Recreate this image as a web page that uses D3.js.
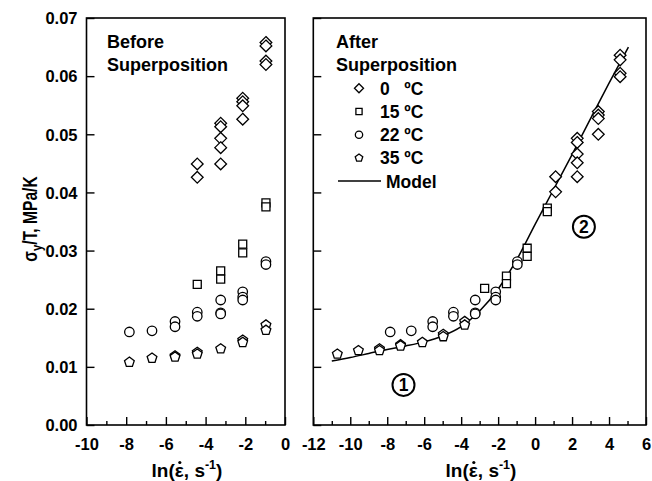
<!DOCTYPE html>
<meta charset="utf-8">
<style>
body { margin: 0; background: #fff; }
svg { font-family: Arial, "Liberation Sans", sans-serif; font-weight: bold; }
.frame { fill: none; stroke: #000; stroke-width: 1.6px; }
.tick line { stroke: #000; stroke-width: 1.4px; }
.mark { fill: #fff; stroke: #000; stroke-width: 1.3px; }
</style>
<svg width="652" height="481"></svg>
<script src="https://d3js.org/d3.v7.min.js"></script>
<script>

// ---- data: [ln(strain rate), sigma_y/T] ----
var before0C = [[-4.42,0.0449],[-4.42,0.0426],[-3.24,0.0519],[-3.24,0.0513],[-3.24,0.0493],[-3.24,0.0477],[-3.24,0.0449],
  [-2.13,0.0562],[-2.13,0.0556],[-2.13,0.0549],[-2.13,0.0526],[-0.96,0.0658],[-0.96,0.0652],[-0.96,0.0626],[-0.96,0.0620]];
var before15C = [[-4.42,0.0242],[-3.24,0.0265],[-3.24,0.0251],[-2.13,0.0311],[-2.13,0.0296],[-0.96,0.0382],[-0.96,0.0375]];
var before22C = [[-7.84,0.0160],[-6.70,0.0162],[-5.54,0.0178],[-5.54,0.0169],[-4.42,0.0194],[-4.42,0.0187],[-3.24,0.0215],
  [-3.24,0.0193],[-3.24,0.0191],[-2.13,0.0229],[-2.13,0.0220],[-2.13,0.0215],[-0.96,0.0281],[-0.96,0.0276]];
var before35C = [[-7.84,0.0108],[-6.70,0.0115],[-5.54,0.0119],[-5.54,0.0117],[-4.42,0.0125],[-4.42,0.0122],[-3.24,0.0131],
  [-2.13,0.0146],[-2.13,0.0142],[-0.96,0.0172],[-0.96,0.0163]];

var after0C = [[1.11,0.0427],[1.11,0.0401],[2.28,0.0493],[2.28,0.0486],[2.28,0.0466],[2.28,0.0451],[2.28,0.0427],
  [3.42,0.0539],[3.42,0.0533],[3.42,0.0527],[3.42,0.0500],[4.60,0.0636],[4.60,0.0628],[4.60,0.0605],[4.60,0.0599]];
var after15C = [[-2.73,0.0235],[-1.55,0.0256],[-1.55,0.0243],[-0.43,0.0304],[-0.43,0.0290],[0.66,0.0373],[0.66,0.0367]];
var after22C = before22C;
var after35C = [[-10.70,0.0122],[-9.56,0.0128],[-8.42,0.0131],[-8.42,0.0128],[-7.28,0.0138],[-7.28,0.0136],[-6.10,0.0142],
  [-4.97,0.0156],[-4.97,0.0152],[-3.81,0.0178],[-3.81,0.0172]];

var modelX = [-11,-10,-9,-8,-7,-6,-5,-4,-3,-2,-1,0,1,2,3,4,5.05];
var modelY = [0.0110,0.0116,0.0123,0.0130,0.0136,0.0143,0.0153,0.0169,0.0196,0.0234,0.0284,0.0345,0.0405,0.0465,0.0527,0.0588,0.0650];

var yTicks = [0, 0.01, 0.02, 0.03, 0.04, 0.05, 0.06, 0.07];
var legendLabels = ["0   \u00baC", "15 \u00baC", "22 \u00baC", "35 \u00baC"];

// ---- symbols ----
var diamond = { draw: function(c, s) { var r = Math.sqrt(s) / 2 * 1.3; c.moveTo(0,-r); c.lineTo(r,0); c.lineTo(0,r); c.lineTo(-r,0); c.closePath(); } };
var square = { draw: function(c, s) { var h = Math.sqrt(s) / 2; c.rect(-h,-h,2*h,2*h); } };
var circle = { draw: function(c, s) { var r = Math.sqrt(s) / 2; c.moveTo(r,0); c.arc(0,0,r,0,2*Math.PI); } };
var pentagon = { draw: function(c, s) {
  var r = Math.sqrt(s) / 2 * 1.05;
  for (var i = 0; i < 5; i++) {
    var a = -Math.PI/2 + i * 2*Math.PI/5;
    if (i === 0) c.moveTo(r*Math.cos(a), r*Math.sin(a)); else c.lineTo(r*Math.cos(a), r*Math.sin(a));
  }
  c.closePath();
} };
var shapes = [diamond, square, circle, pentagon];
var sizes = [81, 64, 90, 95];

var svg = d3.select("svg");

var y = d3.scaleLinear().domain([0, 0.07]).range([425, 18]);
var xL = d3.scaleLinear().domain([-10, 0]).range([86.5, 285]);
var xR = d3.scaleLinear().domain([-12, 6]).range([313.3, 646]);

function panel(x, majors, minors, showY) {
  var g = svg.append("g");
  // x ticks, inward
  g.append("g").attr("transform", "translate(0,425)")
    .call(d3.axisBottom(x).tickValues(minors).tickSize(-4).tickFormat(""))
    .call(function(a) { a.select(".domain").remove(); });
  g.append("g").attr("transform", "translate(0,425)")
    .call(d3.axisBottom(x).tickValues(majors).tickSize(-8).tickPadding(13).tickFormat(d3.format("d")))
    .call(function(a) {
      a.select(".domain").remove();
      a.selectAll("text").attr("font-size", 16.5).attr("font-weight", "bold").attr("fill", "#000")
        .text(function(d) { return String(d).replace("\u2212", "-"); });
    });
  // y ticks, inward
  var ya = g.append("g").attr("transform", "translate(" + x.range()[0] + ",0)")
    .call(d3.axisLeft(y).tickValues(yTicks).tickSize(-8).tickPadding(9).tickFormat(d3.format(".2f")));
  ya.select(".domain").remove();
  ya.selectAll("text").attr("font-size", 16.5).attr("font-weight", "bold").attr("fill", "#000").attr("dy", "0.35em");
  if (!showY) ya.selectAll("text").remove();
  g.append("rect").attr("class", "frame")
    .attr("x", x.range()[0]).attr("y", y.range()[1])
    .attr("width", x.range()[1] - x.range()[0]).attr("height", y.range()[0] - y.range()[1]);
  return g;
}

function marks(g, x, series) {
  series.forEach(function(data, i) {
    g.append("g").selectAll("path").data(data).enter().append("path")
      .attr("class", "mark")
      .attr("transform", function(d) { return "translate(" + x(d[0]) + "," + y(d[1]) + ")"; })
      .attr("d", d3.symbol().type(shapes[i]).size(sizes[i]));
  });
}

var left = panel(xL, d3.range(-10, 1, 2), d3.range(-9, 0, 2), true);
var right = panel(xR, d3.range(-12, 7, 2), d3.range(-11, 6, 2), false);

// model line
var modelPts = modelX.map(function(v, i) { return [v, modelY[i]]; });
right.append("path")
  .attr("d", d3.line().x(function(d) { return xR(d[0]); }).y(function(d) { return y(d[1]); }).curve(d3.curveMonotoneX)(modelPts))
  .attr("fill", "none").attr("stroke", "#000").attr("stroke-width", 1.5);

marks(left, xL, [before0C, before15C, before22C, before35C]);
marks(right, xR, [after0C, after15C, after22C, after35C]);

// panel titles
left.append("text").attr("x", 107).attr("y", 48).attr("font-size", 18).text("Before");
left.append("text").attr("x", 107).attr("y", 71).attr("font-size", 18).text("Superposition");
right.append("text").attr("x", 336).attr("y", 48).attr("font-size", 18).text("After");
right.append("text").attr("x", 336).attr("y", 71).attr("font-size", 18).text("Superposition");

// legend
var lg = right.append("g");
legendLabels.forEach(function(lbl, i) {
  var cy = 88.3 + i * 23.2;
  lg.append("path").attr("class", "mark")
    .attr("transform", "translate(359," + cy + ")")
    .attr("d", d3.symbol().type(shapes[i]).size(sizes[i] * 0.6));
  lg.append("text").attr("x", 380).attr("y", cy + 6.5).attr("font-size", 17.5)
    .style("white-space", "pre").text(lbl);
});
lg.append("line").attr("x1", 338).attr("x2", 381).attr("y1", 181).attr("y2", 181)
  .attr("stroke", "#000").attr("stroke-width", 1.5);
lg.append("text").attr("x", 386).attr("y", 187.5).attr("font-size", 17.5).text("Model");

// circled region labels
[[-7.12, 0.0069, "1"], [2.64, 0.0341, "2"]].forEach(function(d) {
  right.append("circle").attr("cx", xR(d[0])).attr("cy", y(d[1])).attr("r", 11)
    .attr("fill", "#fff").attr("stroke", "#000").attr("stroke-width", 2);
  right.append("text").attr("x", xR(d[0])).attr("y", y(d[1]) + 6.5).attr("text-anchor", "middle")
    .attr("font-size", 17.5).text(d[2]);
});

// axis titles: ln(eps-dot, s^-1); the dot over epsilon is a small circle
function xTitle(cx) {
  var t = svg.append("text").attr("x", cx).attr("y", 477).attr("text-anchor", "middle").attr("font-size", 19);
  t.append("tspan").text("ln(\u03b5, s");
  t.append("tspan").attr("font-size", 12.5).attr("dy", -8).text("-1");
  t.append("tspan").attr("dy", 8).text(")");
  var n = t.node();
  var x0 = n.getStartPositionOfChar(3).x, x1 = n.getEndPositionOfChar(3).x;
  svg.append("circle").attr("cx", (x0 + x1) / 2 + 0.5).attr("cy", 477 - 14.5).attr("r", 1.6).attr("fill", "#000");
}
xTitle(187);
xTitle(481);

var yt = svg.append("text").attr("transform", "translate(37,219) rotate(-90) scale(0.8,1)")
  .attr("text-anchor", "middle").attr("font-size", 19.5);
yt.append("tspan").text("\u03c3");
yt.append("tspan").attr("font-size", 14).attr("dy", 5).text("y");
yt.append("tspan").attr("dy", -5).text("/T, MPa/K");

</script>
